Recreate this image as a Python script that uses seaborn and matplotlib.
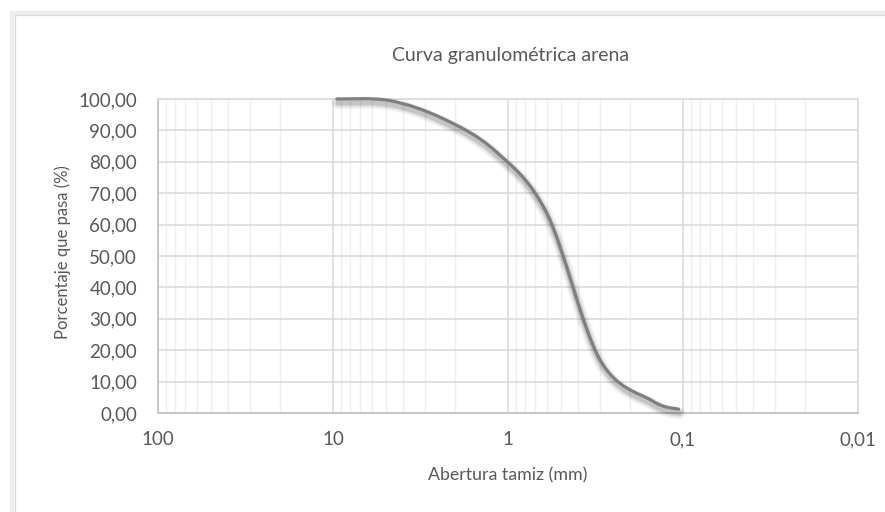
import numpy as np
import seaborn as sns
import matplotlib.pyplot as plt
import matplotlib.transforms as mtransforms
from matplotlib.path import Path
from matplotlib.patches import PathPatch, Rectangle
from matplotlib.ticker import FixedLocator, FixedFormatter, FuncFormatter, NullFormatter

# data
abertura = [9.5, 4.75, 2.36, 1.18, 0.6, 0.3, 0.15, 0.106]   # mm
pasa = [100.0, 99.5, 93.8, 83.4, 63.6, 17.2, 3.9, 1.2]      # %
x_ticks = [100, 10, 1, 0.1, 0.01]
x_labels = ["100", "10", "1", "0,1", "0,01"]
y_ticks = list(range(0, 101, 10))

GRAY_TXT = "#595959"
LINE = "#7f7f7f"


def smooth_path(xs, ys):
    """Excel-like smoothed line: cubic bezier (catmull-rom) in log-x space."""
    u = np.log10(xs)
    v = np.asarray(ys, dtype=float)
    n = len(u)
    verts = [(xs[0], ys[0])]
    codes = [Path.MOVETO]
    for i in range(n - 1):
        i0 = max(i - 1, 0)
        i3 = min(i + 2, n - 1)
        c1 = (u[i] + (u[i + 1] - u[i0]) / 6, v[i] + (v[i + 1] - v[i0]) / 6)
        c2 = (u[i + 1] - (u[i3] - u[i]) / 6, v[i + 1] - (v[i3] - v[i]) / 6)
        verts += [(10 ** c1[0], c1[1]), (10 ** c2[0], c2[1]), (xs[i + 1], ys[i + 1])]
        codes += [Path.CURVE4] * 3
    return Path(verts, codes)


sns.set_theme(style="white")
plt.rcParams['font.family'] = ['Lato', 'DejaVu Sans']

fig = plt.figure(figsize=(8.85, 5.12), dpi=100)
ax = fig.add_axes([158 / 885, 1 - 413 / 512, 700 / 885, 314 / 512])

# chart area border
fig.patches.append(Rectangle((12 / 885, -0.1), 1.2, (1 - 13 / 512) + 0.1, transform=fig.transFigure,
                             fill=False, edgecolor="#eeeeee", lw=3.0, zorder=0))
fig.patches.append(Rectangle((15 / 885, -0.1), 1.2, (1 - 15 / 512) + 0.1, transform=fig.transFigure,
                             fill=False, edgecolor="#d9d9d9", lw=0.9, zorder=0))

# raw points (invisible, sets the data for the axes)
sns.lineplot(x=abertura, y=pasa, ax=ax, lw=0, sort=False, legend=False)

ax.set_xscale("log")
ax.set_xlim(100, 0.01)
ax.set_ylim(0, 100)

path = smooth_path(abertura, pasa)

# soft shadow under the line
for lw, a in [(9, 0.035), (7, 0.05), (5, 0.07), (3.5, 0.09)]:
    off = mtransforms.ScaledTranslation(1 / 100, -4 / 100, fig.dpi_scale_trans)
    ax.add_patch(PathPatch(path, fill=False, edgecolor="black", lw=lw, alpha=a,
                           transform=ax.transData + off, capstyle="round",
                           joinstyle="round", clip_on=False, zorder=3))
ax.add_patch(PathPatch(path, fill=False, edgecolor=LINE, lw=2.3, capstyle="round",
                       joinstyle="round", clip_on=False, zorder=4))

# ticks / grid
ax.xaxis.set_major_locator(FixedLocator(x_ticks))
ax.xaxis.set_major_formatter(FixedFormatter(x_labels))
minor = [m * 10.0 ** e for e in range(-2, 2) for m in range(2, 10)]
ax.xaxis.set_minor_locator(FixedLocator(minor))
ax.xaxis.set_minor_formatter(NullFormatter())
ax.yaxis.set_major_locator(FixedLocator(y_ticks))
ax.yaxis.set_major_formatter(FuncFormatter(lambda v, p: f"{v:.2f}".replace(".", ",")))

ax.grid(which="major", axis="both", color="#d9d9d9", lw=1.1)
ax.grid(which="minor", axis="x", color="#efefef", lw=1.0)
ax.set_axisbelow(True)
ax.tick_params(which="both", length=0)
ax.tick_params(axis="y", pad=15, labelsize=13.5, labelcolor=GRAY_TXT)
ax.tick_params(axis="x", pad=13, labelsize=13.5, labelcolor=GRAY_TXT)

for s in ["top", "right"]:
    ax.spines[s].set_color("#d9d9d9")
    ax.spines[s].set_linewidth(1.1)
for s in ["left", "bottom"]:
    ax.spines[s].set_color("#c4c4c4")
    ax.spines[s].set_linewidth(1.3)

ax.set_xlabel("")
ax.set_ylabel("")
fig.text(511 / 885, 1 - 56 / 512, "Curva granulométrica arena", ha="center", va="center",
         fontsize=14, color=GRAY_TXT)
fig.text(63 / 885, 1 - 252 / 512, "Porcentaje que pasa (%)", rotation=90, ha="center",
         va="center", fontsize=12, color=GRAY_TXT)
fig.text(508 / 885, 1 - 475 / 512, "Abertura tamiz (mm)", ha="center", va="center",
         fontsize=12.8, color=GRAY_TXT)

fig.savefig("out.png", dpi=100)
